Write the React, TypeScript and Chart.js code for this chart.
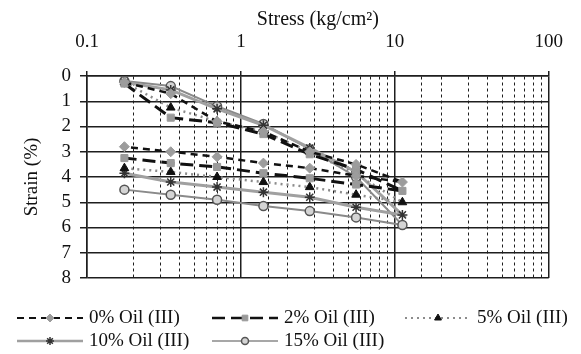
import React, { useEffect, useRef } from 'react';
import { Chart, registerables } from 'chart.js';
import { drawPoint } from 'chart.js/helpers';

Chart.register(...registerables);

const FONT = '"Liberation Serif", "Times New Roman", serif';

// Stress steps (kg/cm²): loading then unloading
const stressLoading = [0.175, 0.35, 0.7, 1.4, 2.8, 5.6, 11.2];
const stressUnloading = [5.6, 2.8, 1.4, 0.7, 0.35, 0.175];

const xTickLabels = ['0.1', '1', '10', '100'];
const yTickValues = [0, 1, 2, 3, 4, 5, 6, 7, 8];

const seriesNames = ['0% Oil (III)', '2% Oil (III)', '5% Oil (III)', '10% Oil (III)', '15% Oil (III)'];

// Strain (%) values
const oil0Loading = [0.25, 0.7, 1.8, 2.2, 3.0, 3.5, 4.2];
const oil0Unloading = [3.95, 3.65, 3.45, 3.2, 3.0, 2.8];
const oil2Loading = [0.3, 1.65, 1.85, 2.3, 3.1, 3.7, 4.55];
const oil2Unloading = [4.3, 4.05, 3.85, 3.6, 3.45, 3.25];
const oil5Loading = [0.25, 1.25, 1.8, 2.2, 3.0, 3.9, 5.0];
const oil5Unloading = [4.7, 4.4, 4.2, 4.0, 3.8, 3.65];
const oil10Loading = [0.25, 0.55, 1.3, 1.95, 2.85, 3.8, 5.5];
const oil10Unloading = [5.2, 4.8, 4.6, 4.4, 4.2, 3.85];
const oil15Loading = [0.2, 0.4, 1.2, 1.9, 2.9, 4.0, 5.9];
const oil15Unloading = [5.6, 5.35, 5.15, 4.9, 4.7, 4.5];

const loadingSets = [oil0Loading, oil2Loading, oil5Loading, oil10Loading, oil15Loading];
const unloadingSets = [oil0Unloading, oil2Unloading, oil5Unloading, oil10Unloading, oil15Unloading];

const styles: any[] = [
  { borderColor: '#111', borderWidth: 2.5, borderDash: [7, 5], pointStyle: 'rectRot', pointRadius: 5, pointBackgroundColor: '#9c9c9c', pointBorderColor: '#9c9c9c', pointBorderWidth: 1 },
  { borderColor: '#111', borderWidth: 3, borderDash: [13, 6], pointStyle: 'rect', pointRadius: 5, pointBackgroundColor: '#9a9a9a', pointBorderColor: '#9a9a9a', pointBorderWidth: 1 },
  { borderColor: '#8c8c8c', borderWidth: 2.5, borderDash: [2, 4], pointStyle: 'triangle', pointRadius: 5, pointBackgroundColor: '#111', pointBorderColor: '#111', pointBorderWidth: 1 },
  { borderColor: '#a0a0a0', borderWidth: 3, borderDash: [], pointStyle: 'star', pointRadius: 5, pointBackgroundColor: '#333', pointBorderColor: '#333', pointBorderWidth: 1.5 },
  { borderColor: '#8a8a8a', borderWidth: 2, borderDash: [], pointStyle: 'circle', pointRadius: 4.5, pointBackgroundColor: '#d4d4d4', pointBorderColor: '#555', pointBorderWidth: 1.5 },
];

const isDecade = (v: number) => Math.abs(Math.log10(v) - Math.round(Math.log10(v))) < 1e-6;

const legendLayout = { rows: [318, 341], cols: [17, 212, 405], symbolLen: 66, gap: 6, perRow: 3 };

const customLegend = {
  id: 'customLegend',
  afterDraw(chart: any) {
    const ctx = chart.ctx;
    ctx.save();
    chart.data.datasets.forEach((ds: any, i: number) => {
      const row = Math.floor(i / legendLayout.perRow);
      const col = i % legendLayout.perRow;
      const x = legendLayout.cols[col];
      const y = legendLayout.rows[row];
      ctx.save();
      ctx.strokeStyle = ds.borderColor;
      ctx.lineWidth = Math.max(1.5, ds.borderWidth - 0.5);
      ctx.setLineDash(ds.borderDash || []);
      ctx.beginPath();
      ctx.moveTo(x, y);
      ctx.lineTo(x + legendLayout.symbolLen, y);
      ctx.stroke();
      ctx.setLineDash([]);
      ctx.fillStyle = ds.pointBackgroundColor;
      ctx.strokeStyle = ds.pointBorderColor;
      ctx.lineWidth = ds.pointBorderWidth;
      drawPoint(ctx, { pointStyle: ds.pointStyle, rotation: 0, radius: ds.pointRadius - 1, borderWidth: ds.pointBorderWidth }, x + legendLayout.symbolLen / 2, y);
      ctx.restore();
      ctx.fillStyle = '#111';
      ctx.font = `19px ${FONT}`;
      ctx.textBaseline = 'middle';
      ctx.textAlign = 'left';
      ctx.fillText(ds.label, x + legendLayout.symbolLen + legendLayout.gap, y);
    });
    ctx.restore();
  },
};

export default function App() {
  const ref = useRef<HTMLCanvasElement>(null);
  useEffect(() => {
    if (!ref.current) return;
    const datasets = seriesNames.map((name, i) => ({
      label: name,
      data: [
        ...loadingSets[i].map((y, k) => ({ x: stressLoading[k], y })),
        ...unloadingSets[i].map((y, k) => ({ x: stressUnloading[k], y })),
      ],
      fill: false,
      tension: 0,
      ...styles[i],
    }));
    const gridColor = '#1e1e1e';
    const chart = new Chart(ref.current, {
      type: 'line',
      data: { datasets },
      plugins: [customLegend],
      options: {
        animation: false,
        responsive: false,
        devicePixelRatio: 1,
        layout: { padding: { left: 0, right: 24, top: 0, bottom: 76 } },
        plugins: { legend: { display: false }, tooltip: { enabled: false } },
        scales: {
          x: {
            type: 'logarithmic',
            position: 'top',
            min: 0.1,
            max: 100,
            afterFit: (s: any) => { s.height = 76; },
            title: { display: true, text: 'Stress (kg/cm²)', color: '#111', font: { family: FONT, size: 20 }, padding: { top: 8, bottom: 0 } },
            ticks: {
              autoSkip: false,
              maxRotation: 0,
              color: '#111',
              padding: 18,
              font: { family: FONT, size: 19 },
              callback: (v: any) => {
                const n = Number(v);
                if (!isDecade(n)) return '';
                const lbl = xTickLabels.find((t) => Math.abs(Number(t) - n) < 1e-9 * Math.max(1, n));
                return lbl ?? '';
              },
            },
            grid: {
              color: gridColor,
              lineWidth: (c: any) => (c.tick && isDecade(c.tick.value) ? 1.5 : 1),
              tickLength: 5,
              tickColor: (c: any) => (c.tick && isDecade(c.tick.value) ? gridColor : 'rgba(0,0,0,0)'),
            },
            border: {
              display: true,
              color: gridColor,
              width: 1.5,
              dash: (c: any) => (c.tick && !isDecade(c.tick.value) ? [3, 3] : []),
            },
          },
          y: {
            type: 'linear',
            reverse: true,
            min: 0,
            max: 8,
            afterFit: (s: any) => { s.width = 87; },
            afterBuildTicks: (s: any) => { s.ticks = yTickValues.map((v) => ({ value: v })); },
            title: { display: true, text: 'Strain (%)', color: '#111', font: { family: FONT, size: 19 }, padding: { top: 21, bottom: 0 } },
            ticks: { autoSkip: false, stepSize: 1, color: '#111', padding: 9, font: { family: FONT, size: 19 } },
            grid: { color: gridColor, lineWidth: 1.5, tickLength: 7 },
            border: { display: true, color: gridColor, width: 1.5 },
          },
        },
      } as any,
    });
    return () => chart.destroy();
  }, []);
  return (
    <div style={{ position: 'fixed', left: 0, top: 0, width: 581, height: 354, background: '#fff' }}>
      <canvas ref={ref} width={581} height={354} style={{ width: 581, height: 354 }} />
    </div>
  );
}
